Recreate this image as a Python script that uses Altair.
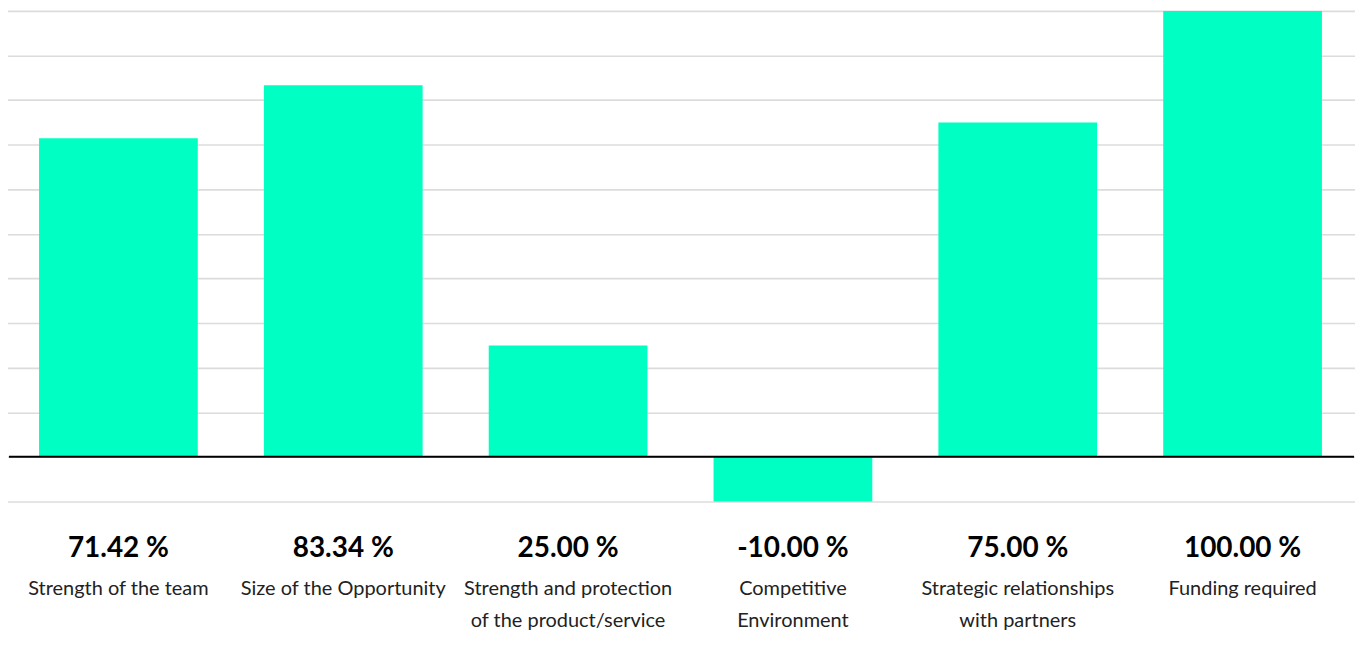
import altair as alt
import pandas as pd

categories = [
    "Strength of the team",
    "Size of the Opportunity",
    "Strength and protection\nof the product/service",
    "Competitive\nEnvironment",
    "Strategic relationships\nwith partners",
    "Funding required",
]
values = [71.42, 83.34, 25.00, -10.00, 75.00, 100.00]
grid_values = [-10, 0, 10, 20, 30, 40, 50, 60, 70, 80, 90, 100]

df = pd.DataFrame({
    "cat": categories,
    "value": values,
    "pct": [f"{v:.2f} %" for v in values],
})

FONT = "Lato"
BAR = "#00ffc2"

xs = alt.X("cat:N", sort=categories, axis=None,
           scale=alt.Scale(paddingInner=0.294, paddingOuter=0.147,
                           range=[-3, 1350]))

bars = alt.Chart(df).mark_bar(color=BAR).encode(
    x=xs,
    y=alt.Y("value:Q",
            scale=alt.Scale(domain=[-10, 100], nice=False, zero=False),
            axis=alt.Axis(values=grid_values, grid=True, gridColor="#dcdcdc",
                          gridWidth=1.6, labels=False, ticks=False,
                          domain=False, title=None)),
)

zero = alt.Chart(pd.DataFrame({"z": [0]})).mark_rule(
    color="#000000", strokeWidth=2
).encode(y="z:Q")

pct_text = alt.Chart(df).mark_text(
    font=FONT, fontSize=28, fontWeight="bold", color="#000000",
    baseline="middle", align="center"
).encode(x=xs, y=alt.value(540), text="pct:N")

cat_text = alt.Chart(df).mark_text(
    font=FONT, fontSize=20, color="#222222", lineBreak="\n",
    lineHeight=32, baseline="top", align="center"
).encode(x=xs, y=alt.value(570), text="cat:N")

chart = alt.layer(bars, zero, pct_text, cat_text).properties(
    width=1349, height=492,
    padding={"left": 0, "top": 2, "right": 0, "bottom": 0},
).configure(background="#ffffff").configure_view(strokeWidth=0, stroke="transparent")

chart.save("out.html", embed_options={"renderer": "svg", "actions": False})
